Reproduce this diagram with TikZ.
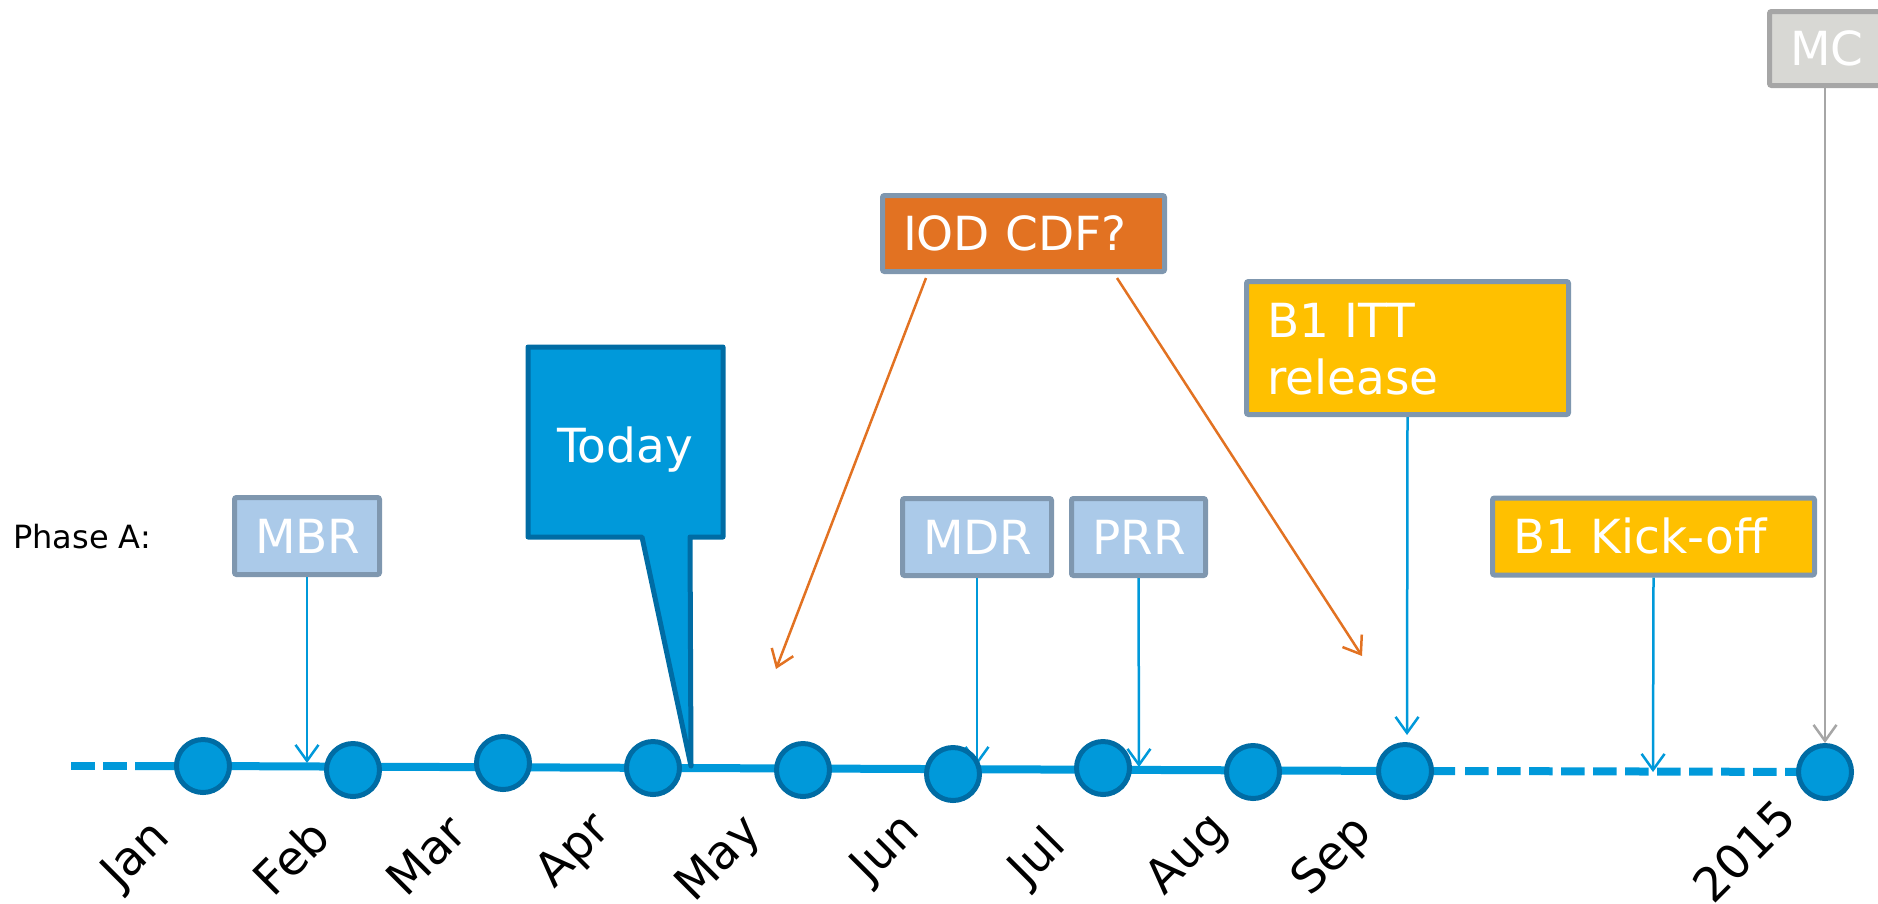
\documentclass[tikz,border=0pt]{standalone}
\usepackage{fontspec}
\setmainfont{DejaVu Sans}
\usetikzlibrary{arrows.meta}
\definecolor{tlblue}{RGB}{0,153,218}
\definecolor{dkblue}{RGB}{0,108,164}
\definecolor{lbfill}{RGB}{171,202,233}
\definecolor{boxedge}{RGB}{127,151,175}
\definecolor{orng}{RGB}{226,114,34}
\definecolor{yell}{RGB}{255,192,0}
\definecolor{mcfill}{RGB}{216,216,212}
\definecolor{mcedge}{RGB}{166,166,166}
\newcommand\bxfont{\fontsize{47}{57}\selectfont}
\newcommand\mofont{\fontsize{47}{55}\selectfont}
\begin{document}
\begin{tikzpicture}[x=1pt,y=-1pt,
  dot/.style={circle,minimum size=53pt,inner sep=0pt,fill=tlblue,draw=dkblue,line width=5pt},
  box/.style={rectangle,draw=boxedge,line width=5pt,rounded corners=2pt,text=white,font=\bxfont,
    inner xsep=20.5pt,inner ysep=0pt,align=left,text height=34pt,text depth=0pt,minimum height=77pt},
  lbbox/.style={box,fill=lbfill},
  ybox/.style={box,fill=yell},
  obox/.style={box,fill=orng},
  gbox/.style={box,fill=mcfill,draw=mcedge},
  mlabel/.style={rotate=45,font=\mofont,inner sep=0pt,text=black},
  tline/.style={line width=8pt,draw=tlblue},
  barrow/.style={line width=2.5pt,draw=tlblue,-{Straight Barb[length=16pt,width=23pt]}},
  oarrow/.style={line width=2.5pt,draw=orng,-{Straight Barb[length=16pt,width=23pt]}},
  garrow/.style={line width=2.5pt,draw=mcedge,-{Straight Barb[length=16pt,width=23pt]}},
]
\useasboundingbox (0,0) rectangle (1878,903);

% month dots (positions)
\path
  coordinate (jan) at (203,766)
  coordinate (feb) at (353,770)
  coordinate (mar) at (503,763)
  coordinate (apr) at (653,768)
  coordinate (may) at (803,770)
  coordinate (jun) at (953,774)
  coordinate (jul) at (1103,768)
  coordinate (aug) at (1253,772)
  coordinate (sep) at (1405,771)
  coordinate (y15) at (1825,772);

% timeline
\coordinate (ls) at (71,766);
\coordinate (lm) at (135,766);
\coordinate (rm) at (1455,771);
\coordinate (rs) at (1465,771);
\draw[tline,dash pattern=on 24pt off 8pt] (ls) -- (lm);
\draw[tline] (lm) -- (jan) -- (sep) -- (rm);
\draw[tline,dash pattern=on 23.5pt off 8.5pt] (rs) -- (y15);

% boxes
\node[lbbox,text width=104pt] (mbr) at (307,536) {MBR};
\node[lbbox,text width=108pt] (mdr) at (977,537) {MDR};
\node[lbbox,text width=93pt] (prr) at (1138.5,537) {PRR};
\node[obox,text width=241pt,minimum height=76pt] (iod) at (1023.5,233.5) {IOD CDF?};
\node[ybox,text width=281pt,minimum height=133pt,text height=35pt,text depth=57pt] (itt) at (1407.5,348) {B1 ITT\\release};
\node[ybox,text width=281pt] (kick) at (1653.5,536.5) {B1 Kick-off};
\node[gbox,text width=70pt,minimum height=74pt] (mc) at (1825,48.5) {MC};

% arrow targets
\coordinate (mbrT) at (307,763);
\coordinate (mdrT) at (977,765);
\coordinate (prrT) at (1139,767);
\coordinate (ittT) at (1407,735);
\coordinate (kickT) at (1653,772);
\coordinate (mcT) at (1825,743);
\coordinate (o1s) at (926,278);
\coordinate (o1e) at (776,669);
\coordinate (o2s) at (1117,278);
\coordinate (o2e) at (1362,656);

\draw[barrow] (mbr.south) -- (mbrT);
\draw[barrow] (mdr.south) -- (mdrT);
\draw[barrow] (prr.south) -- (prrT);
\draw[barrow] (itt.south) -- (ittT);
\draw[barrow] (kick.south) -- (kickT);
\draw[garrow] (mc.south) -- (mcT);
\draw[oarrow] (o1s) -- (o1e);
\draw[oarrow] (o2s) -- (o2e);

% dots
\foreach \m in {jan,feb,mar,apr,may,jun,jul,aug,sep,y15}
  \node[dot] (d\m) at (\m) {};

% Today callout
\draw[fill=tlblue,draw=dkblue,line width=5pt,line join=round]
  (528,347) -- (723,347) -- (723,537) -- (690,537) -- (691,766) -- (642,537) -- (528,537) -- cycle;
\node[font=\bxfont,text=white,anchor=base,inner sep=0pt] (today) at (625,462) {Today};

% Phase A
\node[anchor=base west,font=\fontsize{32}{38}\selectfont,inner sep=0pt] (phase) at (13,548) {Phase A:};

% month labels
\node[mlabel] (ljan) at (137,856) {Jan};
\node[mlabel] (lfeb) at (291,857) {Feb};
\node[mlabel] (lmar) at (426,855) {Mar};
\node[mlabel] (lapr) at (575,852) {Apr};
\node[mlabel] (lmay) at (720,860) {May};
\node[mlabel] (ljun) at (887,850) {Jun};
\node[mlabel] (ljul) at (1038,858) {Jul};
\node[mlabel] (laug) at (1188,855) {Aug};
\node[mlabel] (lsep) at (1333,857) {Sep};
\node[mlabel] (ly15) at (1744,851) {2015};
\end{tikzpicture}
\end{document}
